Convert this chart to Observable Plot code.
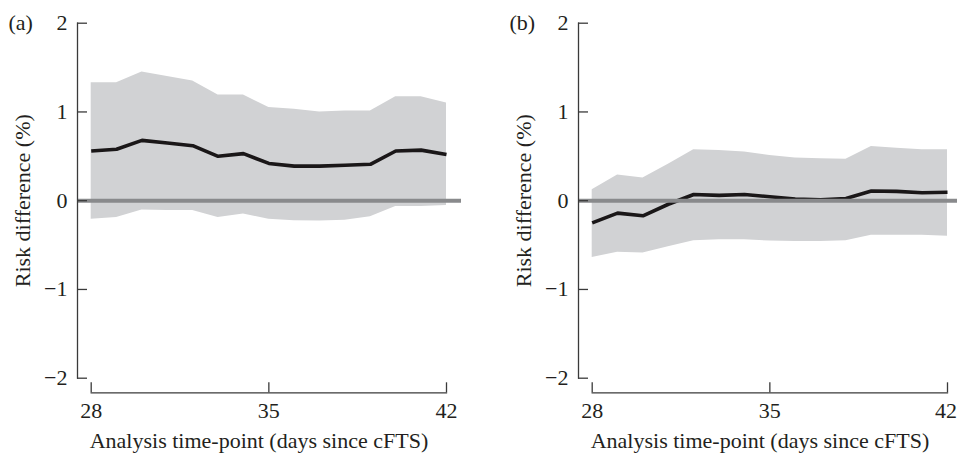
<!DOCTYPE html>
<html>
<head>
<meta charset="utf-8">
<script src="https://cdn.jsdelivr.net/npm/d3@7"></script>
<script src="https://cdn.jsdelivr.net/npm/@observablehq/plot@0.6"></script>
<style>
  html, body { margin: 0; padding: 0; background: #fff; }
  #wrap { position: relative; width: 957px; height: 454px; overflow: hidden; }
  #wrap svg { display: block; position: absolute; top: 0; overflow: visible; max-width: none; }
</style>
</head>
<body>
<div id="wrap"></div>
<script>
// ---- data ----
const days = [28, 29, 30, 31, 32, 33, 34, 35, 36, 37, 38, 39, 40, 41, 42];
const xTicks = [28, 35, 42];
const yTicks = [-2, -1, 0, 1, 2];
const yTickLabels = ["\u22122", "\u22121", "0", "1", "2"];
const panelLabels = ["(a)", "(b)"];
const xTitle = "Analysis time-point (days since cFTS)";
const yTitle = "Risk difference (%)";

// panel (a)
const aEst  = [0.56, 0.58, 0.68, 0.65, 0.62, 0.50, 0.53, 0.42, 0.39, 0.39, 0.40, 0.41, 0.56, 0.57, 0.52];
const aLow  = [-0.21, -0.19, -0.105, -0.11, -0.11, -0.19, -0.15, -0.21, -0.225, -0.23, -0.22, -0.18, -0.065, -0.065, -0.055];
const aHigh = [1.33, 1.33, 1.45, 1.40, 1.35, 1.19, 1.19, 1.05, 1.03, 1.00, 1.01, 1.01, 1.17, 1.17, 1.10];

// panel (b)
const bEst  = [-0.25, -0.14, -0.17, -0.04, 0.07, 0.06, 0.07, 0.045, 0.02, 0.01, 0.025, 0.11, 0.105, 0.09, 0.095];
const bLow  = [-0.64, -0.58, -0.59, -0.52, -0.45, -0.44, -0.44, -0.455, -0.46, -0.46, -0.45, -0.39, -0.39, -0.39, -0.40];
const bHigh = [0.124, 0.29, 0.255, 0.41, 0.575, 0.567, 0.55, 0.51, 0.48, 0.473, 0.466, 0.61, 0.59, 0.575, 0.575];

const panels = [
  {label: panelLabels[0], est: aEst, low: aLow, high: aHigh, left: 0, lastTickShift: 0},
  {label: panelLabels[1], est: bEst, low: bLow, high: bHigh, left: 500.5, lastTickShift: -1.5}
];

const FONT = "'Liberation Serif', serif";
const TEXT = "#231f20";
const AXIS = "#3a3a3a";
const BAND = "#d1d2d4";
const ZERO = "#898a8c";

const W = 501, H = 454, ML = 90.7, MR = 55, MT = 22.7, MB = 76.3;
const frameH = H - MT - MB;
const frameW = W - ML - MR;
const axisGap = ML - 77; // y axis line sits left of the frame

for (const p of panels) {
  const rows = days.map((d, i) => ({day: d, est: p.est[i], low: p.low[i], high: p.high[i]}));
  const chart = Plot.plot({
    width: W,
    height: H,
    marginLeft: ML,
    marginRight: MR,
    marginTop: MT,
    marginBottom: MB,
    style: {fontFamily: FONT, color: TEXT, background: "transparent", overflow: "visible"},
    x: {domain: [28, 42], axis: null},
    y: {domain: [-2, 2], axis: null},
    marks: [
      Plot.areaY(rows, {x: "day", y1: "low", y2: "high", fill: BAND, fillOpacity: 1}),
      Plot.line(rows, {x: "day", y: "est", stroke: "#1a1718", strokeWidth: 3.6, strokeLinejoin: "miter", strokeLinecap: "butt"}),
      Plot.ruleY([0], {stroke: ZERO, strokeWidth: 4, insetLeft: -axisGap, insetRight: -15}),
      Plot.frame({anchor: "left", stroke: AXIS, strokeWidth: 1.3, dx: -axisGap}),
      Plot.frame({anchor: "bottom", stroke: AXIS, strokeWidth: 1.3, dy: 14.6}),
      Plot.tickY(yTicks, {y: d => d, stroke: AXIS, strokeWidth: 1.3, insetRight: frameW - 10, dx: -axisGap}),
      Plot.tickX(xTicks, {x: d => d, stroke: AXIS, strokeWidth: 1.3, insetTop: frameH - 10, dy: 14.6}),
      Plot.text(yTicks, {y: d => d, text: (d, i) => yTickLabels[i], frameAnchor: "left", textAnchor: "end", dx: -(ML - 67), fontSize: 22, fill: TEXT}),
      Plot.text(xTicks.slice(0, -1), {x: d => d, text: d => String(d), frameAnchor: "bottom", lineAnchor: "top", dy: 24.5, fontSize: 22, fill: TEXT}),
      Plot.text(xTicks.slice(-1), {x: d => d, text: d => String(d), frameAnchor: "bottom", lineAnchor: "top", dy: 24.5, dx: p.lastTickShift, fontSize: 22, fill: TEXT}),
      Plot.text([xTitle], {frameAnchor: "bottom-left", textAnchor: "start", lineAnchor: "top", dx: -1.5, dy: 54.5, fontSize: 22, fill: TEXT}),
      Plot.text([yTitle], {frameAnchor: "left", rotate: -90, textAnchor: "middle", lineAnchor: "middle", dx: -(ML - 22), fontSize: 22, fill: TEXT}),
      Plot.text([p.label], {frameAnchor: "top-left", textAnchor: "start", lineAnchor: "middle", dx: -(ML - 8), fontSize: 22, fill: TEXT})
    ]
  });
  chart.style.left = p.left + "px";
  document.getElementById("wrap").appendChild(chart);
}
</script>
</body>
</html>
